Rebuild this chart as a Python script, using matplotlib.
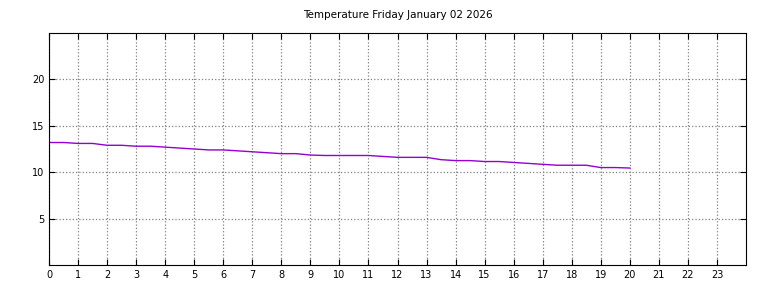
import matplotlib
matplotlib.use('Agg')
import matplotlib.pyplot as plt

# readings every half hour
hours = [0, 0.5, 1, 1.5, 2, 2.5, 3, 3.5, 4, 4.5, 5, 5.5, 6, 6.5, 7, 7.5,
         8, 8.5, 9, 9.5, 10, 10.5, 11, 11.5, 12, 12.5, 13, 13.5, 14, 14.5,
         15, 15.5, 16, 16.5, 17, 17.5, 18, 18.5, 19, 19.5, 20]
temps = [13.2, 13.2, 13.1, 13.1, 12.9, 12.9, 12.8, 12.8, 12.7, 12.6,
         12.5, 12.4, 12.4, 12.3, 12.2, 12.1, 12.0, 12.0, 11.85, 11.8,
         11.8, 11.8, 11.8, 11.7, 11.6, 11.6, 11.6, 11.35, 11.25, 11.25,
         11.15, 11.15, 11.05, 10.95, 10.85, 10.75, 10.75, 10.75, 10.5, 10.5, 10.45]
x_ticks = list(range(24))
y_ticks = [5, 10, 15, 20]
title = 'Temperature Friday January 02 2026'

fig = plt.figure(figsize=(7.68, 2.88), dpi=100)
ax = fig.add_axes([49 / 768, 1 - 265 / 288, 697 / 768, 232 / 288])
ax.plot(hours, temps, color='#9400d3', linewidth=1.0)

ax.set_xlim(0, 24)
ax.set_ylim(0, 25)
ax.set_xticks(x_ticks)
ax.set_yticks(y_ticks)
ax.tick_params(direction='in', top=True, right=True, labelsize=7, length=4)
ax.grid(True, linestyle=':', color='#808080', linewidth=0.9)
for s in ax.spines.values():
    s.set_linewidth(0.8)
ax.set_title(title, fontsize=7.5, pad=11)

fig.savefig('out.png', dpi=100)
